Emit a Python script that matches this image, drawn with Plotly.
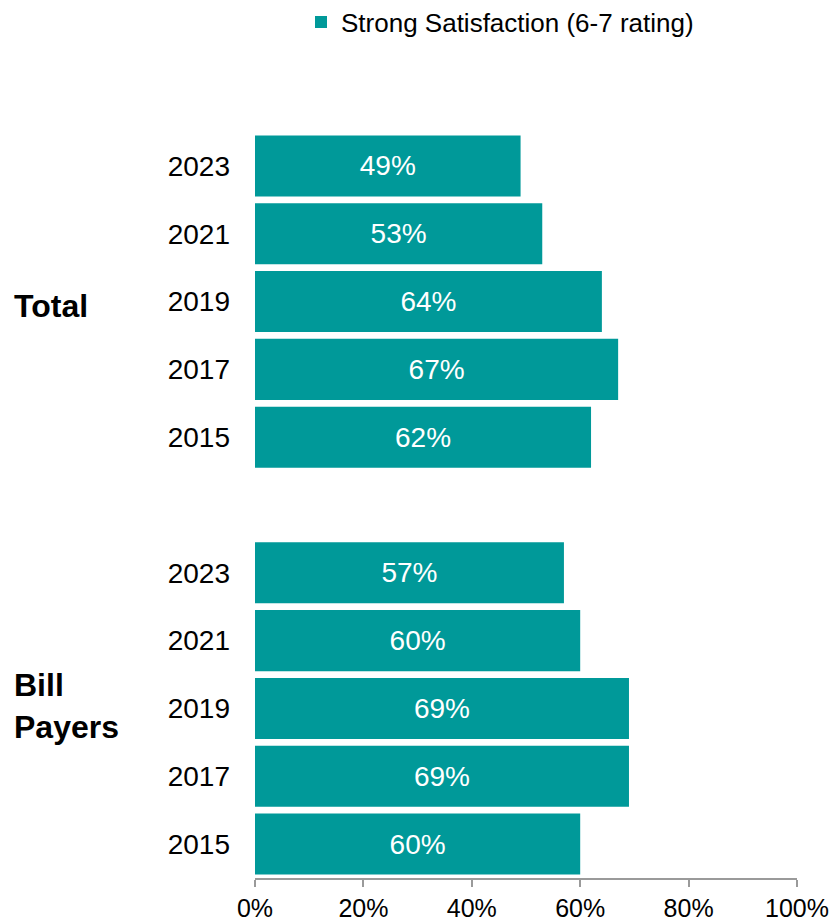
import plotly.graph_objects as go

years = ["2023", "2021", "2019", "2017", "2015"]
total_vals = [49, 53, 64, 67, 62]
bill_vals = [57, 60, 69, 69, 60]
groups = ["Total", "Bill<br>Payers"]
series_name = "Strong Satisfaction (6-7 rating)"
x_ticks = [0, 20, 40, 60, 80, 100]

TEAL = "#009999"
FONT = "Liberation Sans, Arial, sans-serif"

# slot positions: Total 2023 at top (10) ... Bill 2015 at bottom (0), blank slot at 5
n = len(years)
total_pos = [2 * n - i for i in range(n)]
bill_pos = [n - 1 - i for i in range(n)]

ys = total_pos + bill_pos
xs = total_vals + bill_vals
labels = years + years
texts = [f"{v}%" for v in xs]

fig = go.Figure()
fig.add_trace(go.Bar(
    x=xs, y=ys, orientation="h", name=series_name,
    marker=dict(color=TEAL, line=dict(width=0)),
    text=texts, texttemplate="%{text}", textposition="inside", insidetextanchor="middle",
    textfont=dict(color="white", size=28, family=FONT),
    showlegend=True, hoverinfo="skip",
))

fig.update_layout(
    width=833, height=923,
    margin=dict(l=255, r=36, t=132, b=45),
    paper_bgcolor="white", plot_bgcolor="white",
    font=dict(family=FONT, size=26, color="black"),
    bargap=0.1,
    showlegend=True,
    legend=dict(orientation="h", x=(321 - 20) / 833, xref="container", xanchor="left",
                y=1 - 22 / 923, yref="container", yanchor="middle",
                font=dict(size=26, family=FONT, color="black"),
                itemwidth=30),
    xaxis=dict(range=[0, 100], tickvals=x_ticks, ticktext=[f"{v}%" for v in x_ticks],
               showgrid=False, zeroline=False, showline=True, linecolor="#9a9a9a",
               linewidth=2, ticks="outside", tickcolor="#9a9a9a", ticklen=7, tickwidth=2,
               automargin=False,
               tickfont=dict(size=25, family=FONT, color="black")),
    yaxis=dict(range=[-0.5, 2 * n + 0.5], tickvals=ys, ticktext=labels,
               showgrid=False, zeroline=False, showline=False, ticks="",
               ticklabelstandoff=24, automargin=False,
               tickfont=dict(size=28, family=FONT, color="black")),
)

for g, pos, dy in zip(groups, [total_pos[2], bill_pos[2]], [-4, 2]):
    fig.add_annotation(text=f"<b>{g}</b>", x=(12 - 255) / 542, xref="paper", xanchor="left",
                       y=pos, yref="y", yanchor="middle", yshift=dy, showarrow=False,
                       align="left", font=dict(size=32, family=FONT, color="black"))

fig.write_html("out.html", config={"displayModeBar": False},
               post_script="document.body.style.margin='0';")
